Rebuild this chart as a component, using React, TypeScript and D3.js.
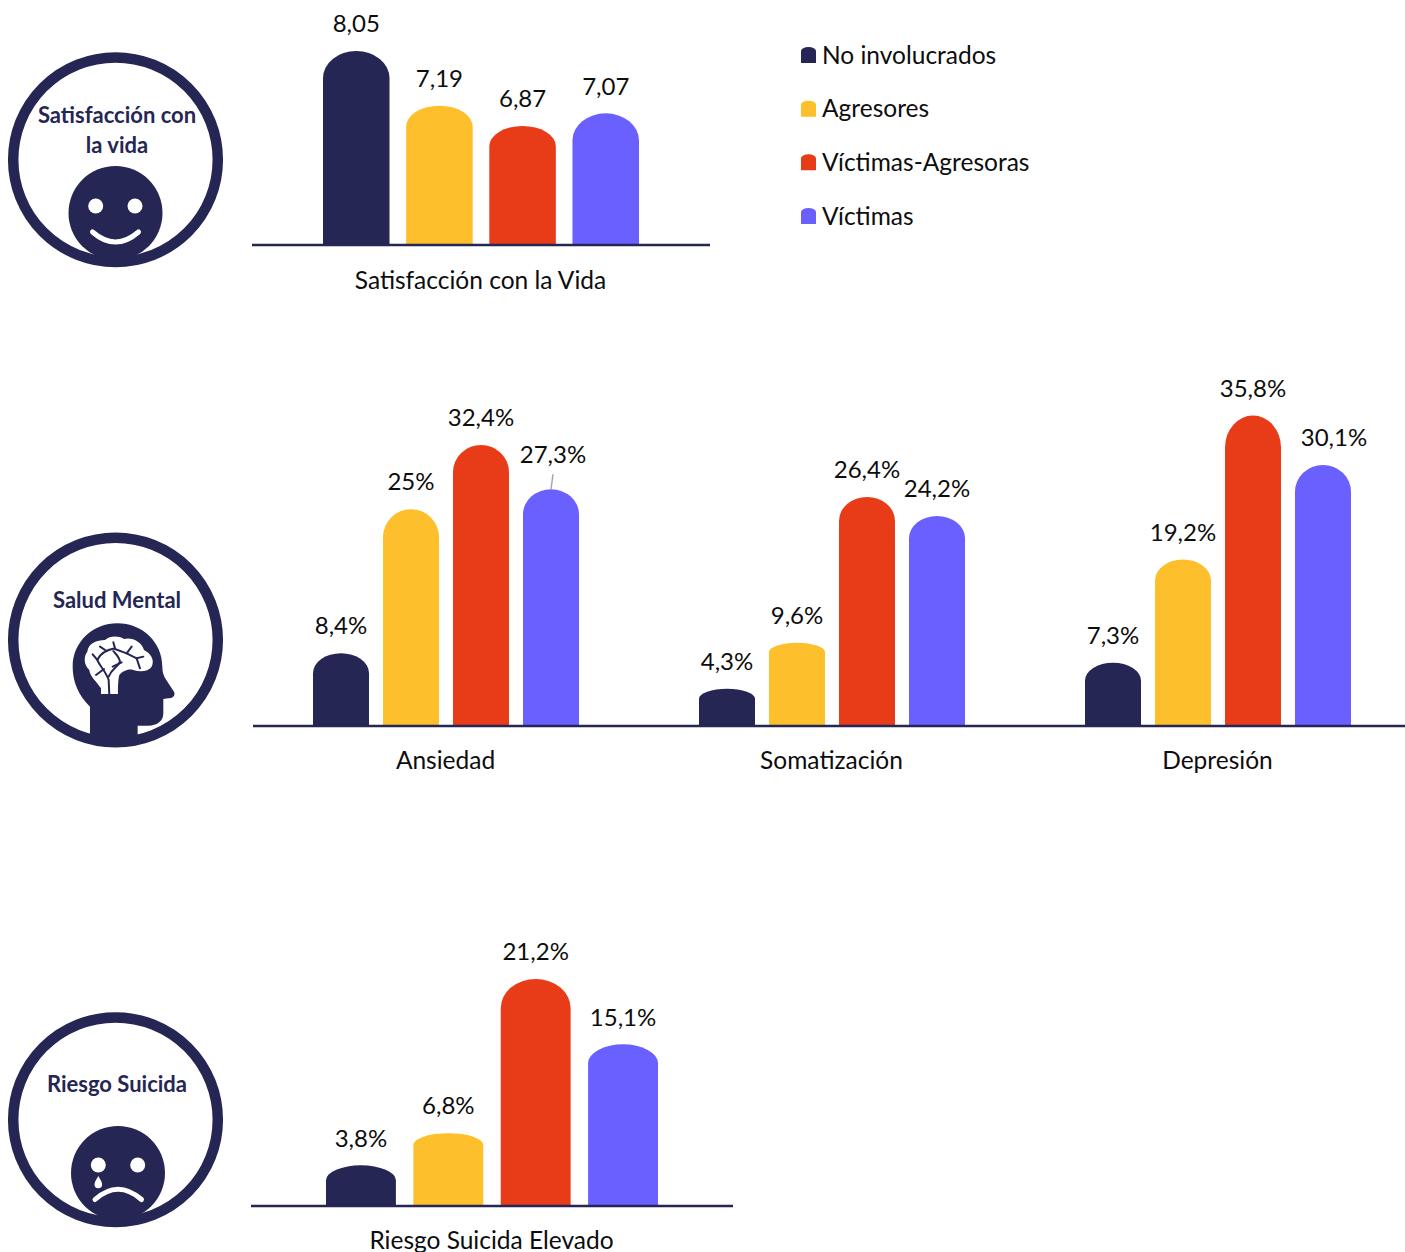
import React from "react";
import * as d3 from "d3";

const seriesNames = ["No involucrados", "Agresores", "Víctimas-Agresoras", "Víctimas"];
const seriesColors = ["#252654", "#FDBF2B", "#E83C18", "#6A5FFF"];

// values per series, in the order of seriesNames
const satisfaccionCategories = ["Satisfacción con la Vida"];
const satisfaccionValues = [[8.05, 7.19, 6.87, 7.07]];
const satisfaccionLabels = [["8,05", "7,19", "6,87", "7,07"]];

const saludCategories = ["Ansiedad", "Somatización", "Depresión"];
const saludValues = [
	[8.4, 25, 32.4, 27.3],
	[4.3, 9.6, 26.4, 24.2],
	[7.3, 19.2, 35.8, 30.1]
];
const saludLabels = [
	["8,4%", "25%", "32,4%", "27,3%"],
	["4,3%", "9,6%", "26,4%", "24,2%"],
	["7,3%", "19,2%", "35,8%", "30,1%"]
];

const riesgoCategories = ["Riesgo Suicida Elevado"];
const riesgoValues = [[3.8, 6.8, 21.2, 15.1]];
const riesgoLabels = [["3,8%", "6,8%", "21,2%", "15,1%"]];

const FONT = "Lato, 'Open Sans', sans-serif";
const NAVY = seriesColors[0];

// the bars were stretched by hand in the original, so each cap has its own height
const satisfaccionCaps = [[27, 21, 20, 27]];
const saludCaps = [
	[20, 28, 27, 25],
	[10, 9.5, 24, 22],
	[18, 21, 32, 27]
];
const riesgoCaps = [[15, 12, 29, 19]];

// labels that were dragged away from their bar
const labelShift: Record<string, { dx: number; dy: number; leader?: boolean }> = {
	"27,3%": { dx: 2, dy: -7, leader: true },
	"30,1%": { dx: 11, dy: 0 }
};

const capBar = (x0: number, x1: number, top: number, bottom: number, ry: number) => {
	const rx = (x1 - x0) / 2;
	return `M${x0},${bottom}V${top + ry}A${rx},${ry} 0 0 1 ${x1},${top + ry}V${bottom}Z`;
};

interface BarGroupProps {
	categories: string[];
	values: number[][];
	labels: string[][];
	caps: number[][];
	domain: [number, number];
	baseline: number;
	top: number;
	axisX: [number, number];
	bandRange: [number, number];
	groupWidth: number;
	categoryY: number;
}

const BarGroup: React.FC<BarGroupProps> = ({
	categories,
	values,
	labels,
	caps,
	domain,
	baseline,
	top,
	axisX,
	bandRange,
	groupWidth,
	categoryY
}) => {
	const y = d3.scaleLinear().domain(domain).range([baseline, top]);
	const x0 = d3.scaleBand<string>().domain(categories).range(bandRange);
	const x1 = d3
		.scaleBand<string>()
		.domain(seriesNames)
		.range([-groupWidth / 2, groupWidth / 2])
		.paddingInner(0.2);

	return (
		<g>
			{categories.map((category, i) => {
				const cx = x0(category)! + x0.bandwidth() / 2;
				return (
					<g key={category}>
						{seriesNames.map((name, s) => {
							const left = cx + x1(name)!;
							const right = left + x1.bandwidth();
							const mid = (left + right) / 2;
							const barTop = y(values[i][s]);
							const shift = labelShift[labels[i][s]] ?? { dx: 0, dy: 0 };
							return (
								<g key={name}>
									<path d={capBar(left, right, barTop, baseline, caps[i][s])} fill={seriesColors[s]} />
									{shift.leader && (
										<line x1={mid + 2} y1={barTop - 15} x2={mid} y2={barTop} stroke="#a6a6a6" strokeWidth={1.5} />
									)}
									<text
										x={mid + shift.dx}
										y={barTop - 18.8 + shift.dy}
										textAnchor="middle"
										fontFamily={FONT}
										fontSize={24}
										fill="#0d0d0d"
									>
										{labels[i][s]}
									</text>
								</g>
							);
						})}
						<text x={cx - 0.5} y={categoryY} textAnchor="middle" fontFamily={FONT} fontSize={24.5} fill="#0d0d0d">
							{category}
						</text>
					</g>
				);
			})}
			<line x1={axisX[0]} x2={axisX[1]} y1={baseline} y2={baseline} stroke={NAVY} strokeWidth={2.4} />
		</g>
	);
};

const Ring: React.FC<{ cx: number; cy: number }> = ({ cx, cy }) => (
	<circle cx={cx} cy={cy} r={102.3} fill="none" stroke={NAVY} strokeWidth={10.5} />
);

const IconTitle: React.FC<{ lines: string[]; y: number }> = ({ lines, y }) => (
	<text textAnchor="middle" fontFamily={FONT} fontWeight={700} fontSize={22} fill={NAVY}>
		{lines.map((line, i) => (
			<tspan key={line} x={117} y={y + i * 30}>
				{line}
			</tspan>
		))}
	</text>
);

const Smile: React.FC = () => (
	<g>
		<Ring cx={115.5} cy={159.7} />
		<IconTitle lines={["Satisfacción con", "la vida"]} y={122.7} />
		<circle cx={115.5} cy={213} r={47} fill={NAVY} />
		<circle cx={95.7} cy={206} r={7.5} fill="#fff" />
		<circle cx={135} cy={206} r={7.5} fill="#fff" />
		<path d="M92.5,232Q115.5,252 138.500,232" fill="none" stroke="#fff" strokeWidth={5} strokeLinecap="round" />
	</g>
);

const Head: React.FC = () => (
	<g>
		<Ring cx={115.5} cy={640} />
		<IconTitle lines={["Salud Mental"]} y={607.7} />
		<g transform="translate(0,525) scale(0.3333)">
			<path
				d="M270 632L270 545C235 510 218 470 218 425C218 350 280 295 352 295C425 295 487 350 487 425C487 440 490 450 497 462L522 500C527 510 520 520 505 520L490 522L490 565C490 590 470 602 445 602L413 602L413 640C370 648 310 648 270 632Z"
				fill={NAVY}
			/>
			<path
				d="M303 507L303 490C290 470 270 455 268 435C252 420 250 395 262 380C265 355 290 345 315 345C330 332 355 332 372 342C395 335 425 350 432 375C452 385 465 405 455 425C445 440 420 442 400 435C385 430 365 440 358 450C354 465 354 490 354 507Z"
				fill="#fff"
			/>
			<g fill="none" stroke={NAVY} strokeWidth={6} strokeLinecap="round" strokeLinejoin="round">
				<path d="M328 510L326 465C318 440 300 425 292 405L278 388" />
				<path d="M292 405C300 385 320 375 345 370L340 352" />
				<path d="M288 450L312 432" />
				<path d="M326 455C335 430 355 425 360 410C358 395 345 385 340 378" />
				<path d="M338 425L365 412" />
				<path d="M345 372L380 385L395 365" />
				<path d="M380 385L410 400L430 395" />
				<path d="M410 400L420 430" />
				<path d="M300 365L320 378" />
			</g>
		</g>
	</g>
);

const Sad: React.FC = () => (
	<g>
		<Ring cx={115.5} cy={1119.7} />
		<IconTitle lines={["Riesgo Suicida"]} y={1091.7} />
		<circle cx={118} cy={1173} r={47} fill={NAVY} />
		<circle cx={98.3} cy={1165} r={7.5} fill="#fff" />
		<circle cx={137.7} cy={1165} r={7.5} fill="#fff" />
		<path d="M98.300,1176C96,1180 94.500,1182 94.500,1184.500A3.800,3.800 0 0 0 102.100,1184.500C102.100,1182 100.600,1180 98.300,1176Z" fill="#fff" />
		<path d="M95,1199.500Q118,1179 141.500,1199.500" fill="none" stroke="#fff" strokeWidth={5} strokeLinecap="round" />
	</g>
);

const legendY = d3.scalePoint<string>().domain(seriesNames).range([55, 216]);

const Legend: React.FC = () => (
	<g>
		{seriesNames.map((name, s) => {
			const cy = legendY(name)!;
			return (
				<g key={name}>
					<path d={capBar(801, 816, cy - 8, cy + 8, 4)} fill={seriesColors[s]} />
					<text x={822} y={cy + 8.6} fontFamily={FONT} fontSize={24.5} fill="#0d0d0d">
						{name}
					</text>
				</g>
			);
		})}
	</g>
);

export default function App() {
	return (
		<svg
			width={1405}
			height={1252}
			viewBox="0 0 1405 1252"
			style={{ position: "absolute", left: 0, top: 0, display: "block", background: "#fff" }}
		>
			<Smile />
			<Head />
			<Sad />
			<Legend />
			<BarGroup
				categories={satisfaccionCategories}
				values={satisfaccionValues}
				labels={satisfaccionLabels}
				caps={satisfaccionCaps}
				domain={[5, 8.05]}
				baseline={245}
				top={51}
				axisX={[252, 710]}
				bandRange={[252, 710]}
				groupWidth={316}
				categoryY={288.7}
			/>
			<BarGroup
				categories={saludCategories}
				values={saludValues}
				labels={saludLabels}
				caps={saludCaps}
				domain={[0, 32.4]}
				baseline={726}
				top={445}
				axisX={[253, 1405]}
				bandRange={[253, 1411]}
				groupWidth={266}
				categoryY={768.7}
			/>
			<BarGroup
				categories={riesgoCategories}
				values={riesgoValues}
				labels={riesgoLabels}
				caps={riesgoCaps}
				domain={[0, 21.2]}
				baseline={1206}
				top={979}
				axisX={[251, 733]}
				bandRange={[251, 733]}
				groupWidth={332}
				categoryY={1248.7}
			/>
		</svg>
	);
}
